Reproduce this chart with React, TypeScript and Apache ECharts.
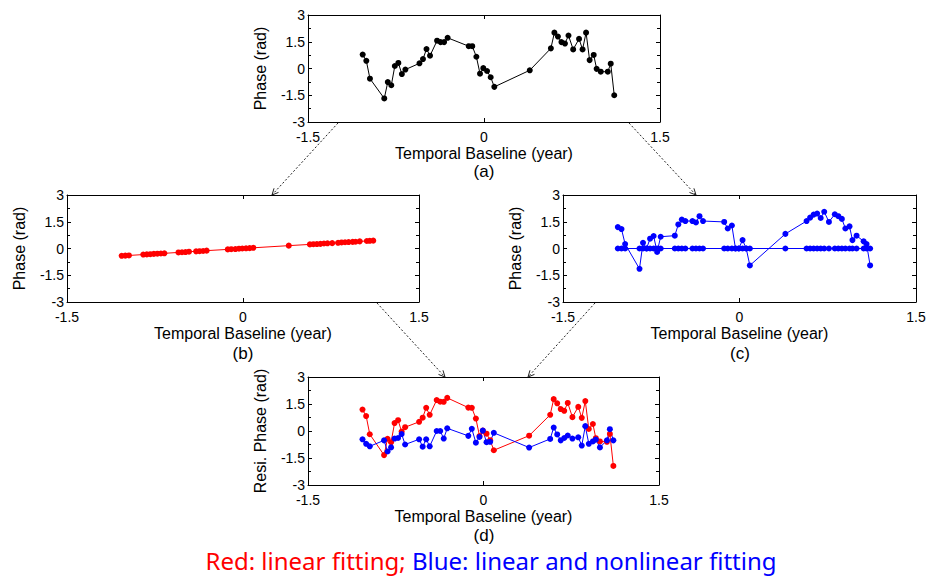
import React, { useEffect, useRef } from "react";
import * as echarts from "echarts";

// Temporal baseline of each acquisition (year)
const temporalBaseline = [
  -1.034, -1.003, -0.972, -0.85, -0.82, -0.79, -0.76, -0.73, -0.7, -0.67,
  -0.55, -0.52, -0.49, -0.46, -0.4, -0.37, -0.34, -0.31, -0.13, -0.1,
  -0.065, -0.034, -0.006, 0.026, 0.057, 0.088, 0.39, 0.57, 0.6, 0.63,
  0.66, 0.69, 0.72, 0.76, 0.81, 0.84, 0.87, 0.9, 0.935, 0.96,
  0.995, 1.055, 1.08, 1.11,
];

// (a) observed phase (rad)
const observedPhase = [
  0.78, 0.43, -0.57, -1.68, -0.76, -0.94, 0.14, 0.31, -0.31, -0.06,
  0.29, 0.53, 1.09, 0.72, 1.56, 1.48, 1.48, 1.72, 1.25, 1.25,
  0.66, -0.29, 0.02, -0.14, -0.49, -1.03, -0.1, 1.13, 2.01, 1.79,
  1.48, 1.4, 1.85, 1.07, 1.66, 1.07, 2.01, 0.47, 0.76, -0.02,
  -0.18, -0.18, 0.27, -1.5,
];

// (b) linear fitting (rad)
const linearFit = [
  -0.41, -0.4, -0.39, -0.34, -0.33, -0.32, -0.3, -0.29, -0.28, -0.27,
  -0.22, -0.21, -0.2, -0.18, -0.16, -0.15, -0.14, -0.12, -0.05, -0.04,
  -0.03, -0.01, 0.0, 0.01, 0.02, 0.04, 0.16, 0.23, 0.24, 0.25,
  0.26, 0.28, 0.29, 0.3, 0.32, 0.34, 0.35, 0.36, 0.37, 0.38,
  0.4, 0.42, 0.43, 0.44,
];

// (c) nonlinear fitting (rad)
const nonlinearFit = [
  1.2, 1.09, 0.25, -1.14, 0.32, 0.0, 0.55, 0.7, -0.19, 0.66,
  0.72, 1.35, 1.62, 1.54, 1.54, 1.46, 1.81, 1.54, 1.49, 1.12,
  1.29, 0.0, 0.0, 0.47, 0.0, -0.95, 0.82, 1.54, 1.73, 1.9,
  1.96, 1.71, 2.06, 1.49, 1.92, 1.81, 1.66, 1.12, 1.24, 0.47,
  0.72, 0.4, 0.25, -0.95,
];

// (c) zero level line (rad)
const zeroLevel = [
  0, 0, 0, 0, 0, 0, 0, 0, 0, 0,
  0, 0, 0, 0, 0, 0, 0, 0, 0, 0,
  0, 0, 0, 0, 0, 0, 0, 0, 0, 0,
  0, 0, 0, 0, 0, 0, 0, 0, 0, 0,
  0, 0, 0, 0,
];

// (d) residual phase after linear fitting (rad)
const residualLinear = [
  1.19, 0.83, -0.18, -1.34, -0.43, -0.62, 0.44, 0.6, -0.03, 0.21,
  0.51, 0.74, 1.29, 0.9, 1.72, 1.63, 1.62, 1.84, 1.3, 1.29,
  0.69, -0.28, 0.02, -0.15, -0.51, -1.07, -0.26, 0.9, 1.77, 1.54,
  1.22, 1.12, 1.56, 0.77, 1.34, 0.73, 1.66, 0.11, 0.39, -0.4,
  -0.58, -0.6, -0.16, -1.94,
];

// (d) residual phase after linear and nonlinear fitting (rad)
const residualNonlinear = [
  -0.46, -0.71, -0.85, -0.52, -1.14, -0.91, -0.42, -0.39, -0.17, -0.75,
  -0.46, -0.87, -0.46, -0.85, 0.0, 0.0, -0.42, 0.15, -0.27, 0.12,
  -0.65, -0.33, 0.02, -0.62, -0.6, -0.1, -0.92, -0.44, 0.19, -0.19,
  -0.52, -0.39, -0.25, -0.42, -0.35, -0.81, 0.27, -0.71, -0.58, -0.48,
  -0.91, -0.52, 0.1, -0.52,
];

const xTickValues = [-1.5, 0, 1.5];
const yTickValues = [-3, -1.5, 0, 1.5, 3];

const panelLabels = ["(a)", "(b)", "(c)", "(d)"];
const yAxisNames = ["Phase (rad)", "Phase (rad)", "Phase (rad)", "Resi. Phase (rad)"];
const xAxisName = "Temporal Baseline (year)";
const legendRed = "Red: linear fitting; ";
const legendBlue = "Blue: linear and nonlinear fitting";

const AXIS_FONT = "'Liberation Sans', Arial, Helvetica, sans-serif";

const pairs = (ys: number[]) => temporalBaseline.map((x, i) => [x, ys[i]]);

export default function App() {
  const ref = useRef<HTMLDivElement>(null);

  useEffect(() => {
    if (!ref.current) return;
    const chart = echarts.init(ref.current, null, { renderer: "svg" });

    const grids = [
      { left: 308, top: 15, width: 352, height: 107 },
      { left: 67, top: 195, width: 352, height: 107 },
      { left: 563, top: 195, width: 353, height: 107 },
      { left: 308, top: 377, width: 351, height: 108 },
    ];

    const xMin = xTickValues[0];
    const xMax = xTickValues[xTickValues.length - 1];
    const xInt = xTickValues[1] - xTickValues[0];
    const yMin = yTickValues[0];
    const yMax = yTickValues[yTickValues.length - 1];
    const yInt = yTickValues[1] - yTickValues[0];

    const axisLine = { show: true, onZero: false, lineStyle: { color: "#000", width: 1 } };
    const tick = { show: true, inside: true, length: 4, lineStyle: { color: "#000", width: 1 } };
    const minor = { show: true, splitNumber: 2, length: 3, lineStyle: { color: "#000", width: 1 } };

    const xAxes: any[] = [];
    const yAxes: any[] = [];
    grids.forEach((_, g) => {
      xAxes.push({
        gridIndex: g,
        type: "value",
        position: "bottom",
        min: xMin,
        max: xMax,
        interval: xInt,
        axisLine,
        axisTick: tick,
        splitLine: { show: false },
        axisLabel: { color: "#000", fontSize: 14, fontFamily: AXIS_FONT, margin: 8 },
        name: xAxisName,
        nameLocation: "middle",
        nameGap: 23,
        nameTextStyle: { color: "#000", fontSize: 16, fontFamily: AXIS_FONT },
      });
      xAxes.push({
        gridIndex: g,
        type: "value",
        position: "top",
        min: xMin,
        max: xMax,
        interval: xInt,
        axisLine,
        axisTick: tick,
        splitLine: { show: false },
        axisLabel: { show: false },
      });
      yAxes.push({
        gridIndex: g,
        type: "value",
        position: "left",
        min: yMin,
        max: yMax,
        interval: yInt,
        axisLine,
        axisTick: tick,
        minorTick: minor,
        splitLine: { show: false },
        minorSplitLine: { show: false },
        axisLabel: { color: "#000", fontSize: 14, fontFamily: AXIS_FONT, margin: 3 },
        name: yAxisNames[g],
        nameLocation: "middle",
        nameGap: 40,
        nameTextStyle: { color: "#000", fontSize: 16, fontFamily: AXIS_FONT },
      });
      yAxes.push({
        gridIndex: g,
        type: "value",
        position: "right",
        min: yMin,
        max: yMax,
        interval: yInt,
        axisLine,
        axisTick: tick,
        minorTick: minor,
        splitLine: { show: false },
        minorSplitLine: { show: false },
        axisLabel: { show: false },
      });
    });

    const lineSeries = (g: number, ys: number[], color: string, name: string) => ({
      name,
      type: "line",
      xAxisIndex: g * 2,
      yAxisIndex: g * 2,
      data: pairs(ys),
      symbol: "circle",
      symbolSize: 6,
      showSymbol: true,
      lineStyle: { color, width: 1 },
      itemStyle: { color },
      silent: true,
    });

    const series = [
      lineSeries(0, observedPhase, "#000000", "Observed phase"),
      lineSeries(1, linearFit, "#ff0000", "Linear fitting"),
      lineSeries(2, zeroLevel, "#0000ff", "Zero level"),
      lineSeries(2, nonlinearFit, "#0000ff", "Nonlinear fitting"),
      lineSeries(3, residualLinear, "#ff0000", "Residual (linear)"),
      lineSeries(3, residualNonlinear, "#0000ff", "Residual (linear + nonlinear)"),
    ];

    const arrow = (x1: number, y1: number, x2: number, y2: number) => {
      const ang = Math.atan2(y2 - y1, x2 - x1);
      const L = 7;
      const spread = Math.PI / 7;
      const p1 = [x2 - L * Math.cos(ang - spread), y2 - L * Math.sin(ang - spread)];
      const p2 = [x2 - L * Math.cos(ang + spread), y2 - L * Math.sin(ang + spread)];
      return [
        {
          type: "line",
          shape: { x1, y1, x2, y2 },
          style: { stroke: "#222", lineWidth: 1, lineDash: [2, 2] },
          silent: true,
        },
        {
          type: "polyline",
          shape: { points: [p1, [x2, y2], p2] },
          style: { stroke: "#222", lineWidth: 1, fill: null },
          silent: true,
        },
      ];
    };

    const labelPos = [
      [484, 171],
      [243, 353],
      [740, 353],
      [484, 535],
    ];

    const graphic: any[] = [
      ...arrow(338, 123, 272, 195),
      ...arrow(629, 123, 696, 195),
      ...arrow(377, 303, 445, 377),
      ...arrow(595, 303, 528, 377),
      ...panelLabels.map((t, i) => ({
        type: "text",
        x: labelPos[i][0],
        y: labelPos[i][1],
        style: {
          text: t,
          fill: "#000",
          font: `17px ${AXIS_FONT}`,
          align: "center",
          verticalAlign: "middle",
        },
      })),
      {
        type: "text",
        x: 491,
        y: 560,
        style: {
          text: `{r|${legendRed}}{b|${legendBlue}}`,
          align: "center",
          verticalAlign: "middle",
          rich: {
            r: { fill: "#ff0000", fontSize: 24, fontFamily: "'Noto Sans', sans-serif" },
            b: { fill: "#0000ff", fontSize: 24, fontFamily: "'Noto Sans', sans-serif" },
          },
        },
      },
    ];

    chart.setOption({
      animation: false,
      backgroundColor: "#ffffff",
      grid: grids.map((g) => ({ ...g, containLabel: false })),
      xAxis: xAxes,
      yAxis: yAxes,
      series,
      graphic,
    });

    return () => chart.dispose();
  }, []);

  return (
    <div
      ref={ref}
      style={{ position: "fixed", left: 0, top: 0, width: 929, height: 576, background: "#fff" }}
    />
  );
}
